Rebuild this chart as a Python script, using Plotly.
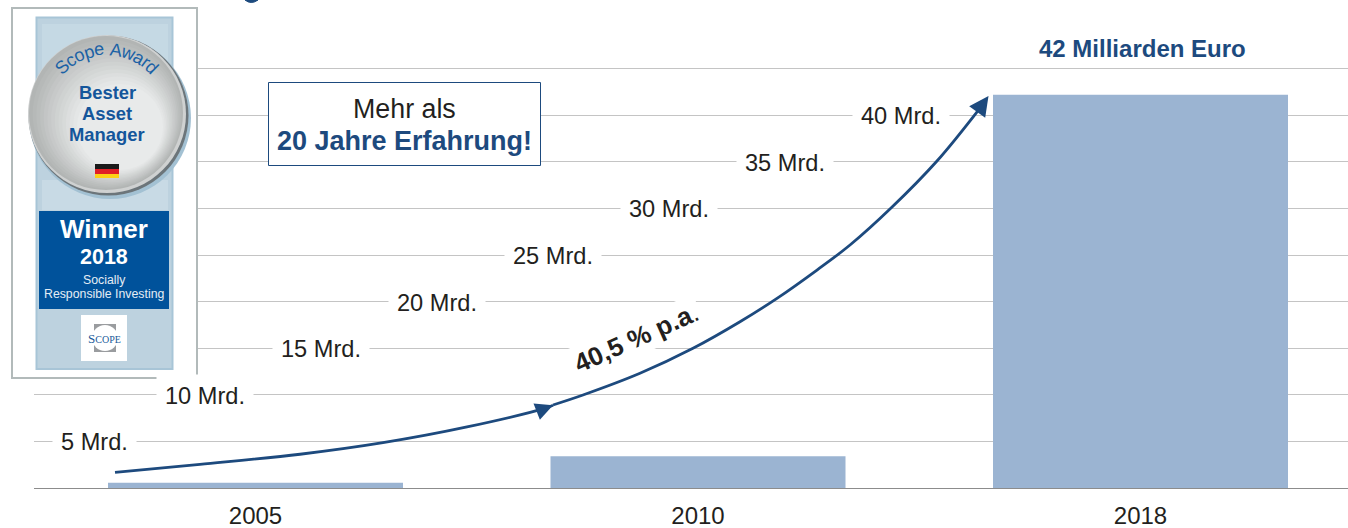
import math
import plotly.graph_objects as go

# ---- data ----
years = ["2005", "2010", "2018"]
bar_pos = [0, 1, 2]
volume_mrd = [0.55, 3.4, 42.2]
grid_vals = [5, 10, 15, 20, 25, 30, 35, 40, 45]
level_labels = ["5 Mrd.", "10 Mrd.", "15 Mrd.", "20 Mrd.", "25 Mrd.", "30 Mrd.", "35 Mrd.", "40 Mrd."]
level_vals = [5, 10, 15, 20, 25, 30, 35, 40]
curve1_x = [-0.3175, -0.1254, 0.1006, 0.2881, 0.478, 0.6588, 0.6723]
curve1_y = [1.68, 2.54, 3.62, 4.86, 6.55, 8.62, 8.87]
curve2_x = [0.6723, 0.7401, 0.8689, 0.9887, 1.0949, 1.1785, 1.2689, 1.3435, 1.4362, 1.5401, 1.6373, 1.6565]
curve2_y = [8.91, 9.98, 12.31, 14.99, 17.84, 20.35, 23.39, 26.07, 30.04, 35.09, 40.77, 42.06]

# ---- style / layout constants ----
W, H = 1348, 528
ML, MB = 34, 40
AXIS_BOTTOM = H - MB
PX_PER_CAT = 442.5
CAT0_PX = 255.5
PX_PER_MRD = 9.32
BLUE = "#1d4a7e"
INK = "#231f20"
BAR = "#9bb4d2"
GRID = "#c4c4c4"
FONT = "Liberation Sans, Arial, sans-serif"


def px(x):
    return (x - ML) / (W - ML)


def py(y):
    return (AXIS_BOTTOM - y) / AXIS_BOTTOM


fig = go.Figure()
fig.add_bar(x=bar_pos, y=volume_mrd, width=295 / PX_PER_CAT, marker=dict(color=BAR, line_width=0), hoverinfo="skip")
for cx, cy in ((curve1_x, curve1_y), (curve2_x[:-1], curve2_y[:-1])):
    fig.add_scatter(x=cx, y=cy, mode="lines", line=dict(color=BLUE, width=2.8, shape="spline", smoothing=1.0),
                    hoverinfo="skip")

shapes = []
ann = []


def rect(x0, y0, x1, y1, fill, line=None, lw=0):
    shapes.append(dict(type="rect", xref="paper", yref="paper", x0=px(x0), x1=px(x1), y0=py(y0), y1=py(y1),
                       fillcolor=fill, line=dict(color=line or fill, width=lw), layer="above"))


def circle(cx, cy, r, fill):
    shapes.append(dict(type="circle", xref="paper", yref="paper", x0=px(cx - r), x1=px(cx + r),
                       y0=py(cy + r), y1=py(cy - r), fillcolor=fill, line=dict(width=0), layer="above"))


def text(x, y, s, size, color=INK, bold=False, family=FONT, angle=0, bg=None, pad=0):
    ann.append(dict(xref="paper", yref="paper", x=px(x), y=py(y), text=f"<b>{s}</b>" if bold else s,
                    showarrow=False, xanchor="center", yanchor="middle", textangle=angle,
                    font=dict(size=size, color=color, family=family),
                    bgcolor=bg, borderpad=pad))


def lerp(c0, c1, t):
    return "#" + "".join(f"{round(a + (b - a) * t):02x}" for a, b in zip(c0, c1))


# staircase of level labels, white boxes break the gridlines
label_cx = [94, 204.5, 321, 436.5, 553, 669, 785.5, 901.5]
for cx, lab, v in zip(label_cx, level_labels, level_vals):
    ann.append(dict(x=px(cx), y=v, xref="paper", yref="y", yshift=-1, text=lab, showarrow=False, xanchor="center",
                    yanchor="middle", font=dict(size=23.6, color=INK, family=FONT), bgcolor="white", borderpad=8))

# arrow heads on the growth curve
ann.append(dict(x=curve1_x[-1], y=curve1_y[-1], ax=curve1_x[-2], ay=curve1_y[-2], xref="x", yref="y", axref="x",
                ayref="y", text="", showarrow=True, arrowhead=2, arrowsize=1.25, arrowwidth=2.8, arrowcolor=BLUE))
ann.append(dict(x=curve2_x[-1], y=curve2_y[-1], ax=curve2_x[-2], ay=curve2_y[-2], xref="x", yref="y", axref="x",
                ayref="y", text="", showarrow=True, arrowhead=2, arrowsize=1.4, arrowwidth=2.8, arrowcolor=BLUE))

# slope label
text(636, 338, "<b>40,5 % p.a</b>.", 26, INK, angle=-24, bg="white", pad=2)

# value caption
text(1142, 48, "42 Milliarden Euro", 24, BLUE, bold=True)

# experience box
rect(268.5, 82.5, 540.5, 165.5, "white", BLUE, 1)
text(404.5, 109, "Mehr als", 26.8)
text(404.5, 141, "20 Jahre Erfahrung!", 27, BLUE, bold=True)

# bottom stroke of a headline cropped by the top edge
shapes.append(dict(type="path", xref="paper", yref="paper", layer="above",
                   path=f"M {px(245)} {py(0)} Q {px(251)} {py(5)} {px(258)} {py(0)} Z",
                   fillcolor=BLUE, line=dict(color=BLUE, width=1)))

# ---- award badge ----
rect(12, 8, 197, 378, "white", "#b2baba", 2)
rect(36.5, 17.5, 172.5, 369, "#bdd2df", "#a8c5d7", 2)
rect(42, 24, 168, 100, "#c5d9e4")
rect(42, 180, 168, 210, "#c8dae5")
circle(110, 118, 81, "#a3c1d3")
circle(108.5, 115.5, 80, "#6c757a")
circle(107, 114, 79, "#cfd1d1")
for i in range(14):
    t = i / 13
    circle(106 + t * 14, 113 + t * 14, 77 - t * 34, lerp((178, 181, 180), (232, 234, 234), t))

badge_word = "Scope Award"
badge_w = [.667, .5, .556, .556, .556, .278, .667, .722, .556, .333, .556]
total = sum(badge_w)
acc = 0
SPREAD = 98
for ch, w in zip(badge_word, badge_w):
    mid = (acc + w / 2) / total - 0.5
    acc += w
    a = mid * SPREAD
    text(107 + 65 * math.sin(math.radians(a)), 114 - 65 * math.cos(math.radians(a)), ch, 18, "#1b62a5", angle=a)

AWARD = "#14569b"
text(107, 93, "Bester", 18.4, AWARD, bold=True)
text(107, 113, "Asset", 18.4, AWARD, bold=True)
text(107, 134, "Manager", 18.4, AWARD, bold=True)
rect(95, 164, 119, 169, "#1a1a1a")
rect(95, 169, 119, 174, "#e01f26")
rect(95, 174, 119, 178, "#fcd116")

rect(39, 211, 169, 309, "#00529b")
text(104, 229, "Winner", 26, "white", bold=True)
text(104, 257, "2018", 21.5, "white", bold=True)
text(104, 280, "Socially", 12.3, "#e4edf5")
text(104, 294, "Responsible Investing", 12.3, "#e4edf5")

rect(81, 315, 127, 361, "white")
rect(94, 324, 116, 352, "#9a9c9f")
circle(105, 338, 13, "white")
text(104.5, 338, "S<span style='font-size:10px'>COPE</span>", 13, "#1b5a9a", family="Liberation Serif, serif")

fig.update_layout(
    width=W, height=H, margin=dict(l=ML, r=0, t=0, b=MB, pad=0, autoexpand=False),
    plot_bgcolor="white", paper_bgcolor="white", showlegend=False,
    shapes=shapes, annotations=ann,
    xaxis=dict(range=[(ML - CAT0_PX) / PX_PER_CAT, (W - CAT0_PX) / PX_PER_CAT], tickvals=bar_pos, ticktext=years,
               automargin=False, showgrid=False, zeroline=False, showline=True, linecolor="#8c8c8c", linewidth=1,
               ticks="outside", ticklen=6, tickcolor="rgba(0,0,0,0)",
               tickfont=dict(size=24, color=INK, family=FONT)),
    yaxis=dict(range=[0, AXIS_BOTTOM / PX_PER_MRD], tickvals=grid_vals, showticklabels=False, showgrid=True,
               automargin=False, gridcolor=GRID, gridwidth=1, zeroline=False, showline=False, ticks=""),
)
fig.write_html("out.html", config={"displayModeBar": False},
               post_script="document.body.style.margin='0';document.body.style.overflow='hidden';")
